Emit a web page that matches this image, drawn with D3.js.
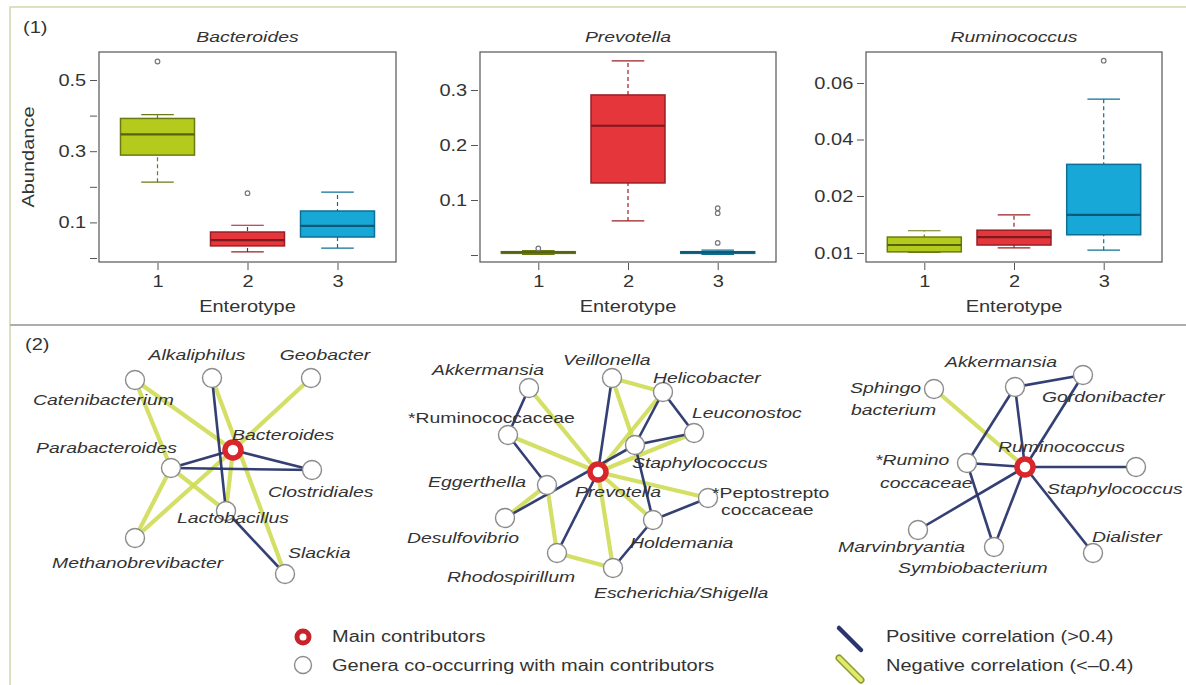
<!DOCTYPE html>
<html>
<head>
<meta charset="utf-8">
<script src="https://cdn.jsdelivr.net/npm/d3@7"></script>
<style>
body { margin: 0; background: #fff; }
svg { display: block; font-family: "Liberation Sans", Arial, sans-serif; }
</style>
</head>
<body>
<svg width="1186" height="685"></svg>
<script>
const SX = 1.25; // text in the source figure is drawn a bit wide

// ---------- box plots ----------
const enterotypes = ["1", "2", "3"];
const genera = ["Bacteroides", "Prevotella", "Ruminococcus"];
const boxFill = ["#b4cb1e", "#e4363b", "#17a8d8"];
const boxEdge = ["#6b7a12", "#9a1f24", "#0d6f93"];

// [whisker low, q1, median, q3, whisker high]
const bacteroidesStats = [[0.213, 0.289, 0.347, 0.392, 0.403], [0.017, 0.034, 0.05, 0.073, 0.092], [0.028, 0.059, 0.09, 0.132, 0.185]];
const bacteroidesOutliers = [[0.552], [0.182], []];
const prevotellaStats = [[0.001, 0.003, 0.005, 0.006, 0.008], [0.062, 0.131, 0.235, 0.291, 0.353], [0.001, 0.003, 0.005, 0.006, 0.009]];
const prevotellaOutliers = [[0.012], [], [0.085, 0.076, 0.022]];
const ruminococcusStats = [[0.0101, 0.0102, 0.0114, 0.0128, 0.0139], [0.0109, 0.0114, 0.0128, 0.014, 0.0167], [0.0105, 0.0132, 0.0167, 0.0312, 0.0543]];
const ruminococcusOutliers = [[], [], [0.0679]];

const bacteroidesTicks = [0, 0.1, 0.2, 0.3, 0.4, 0.5];
const bacteroidesTickLabels = ["", "0.1", "", "0.3", "", "0.5"];
const prevotellaTicks = [0, 0.1, 0.2, 0.3];
const prevotellaTickLabels = ["", "0.1", "0.2", "0.3"];
const ruminococcusTicks = [0.01, 0.02, 0.04, 0.06];
const ruminococcusTickLabels = ["0.01", "0.02", "0.04", "0.06"];

// ---------- networks ----------
// first node of each list is the main contributor; edges: 1 positive, -1 negative
const net1Nodes = ["Bacteroides", "Catenibacterium", "Alkaliphilus", "Geobacter", "Parabacteroides", "Clostridiales", "Lactobacillus", "Methanobrevibacter", "Slackia"];
const net1Edges = [
    ["Catenibacterium", "Bacteroides", -1], ["Catenibacterium", "Parabacteroides", -1], ["Geobacter", "Bacteroides", -1],
    ["Bacteroides", "Methanobrevibacter", -1], ["Methanobrevibacter", "Parabacteroides", -1], ["Parabacteroides", "Lactobacillus", -1],
    ["Alkaliphilus", "Slackia", -1], ["Bacteroides", "Lactobacillus", -1],
    ["Alkaliphilus", "Lactobacillus", 1], ["Parabacteroides", "Bacteroides", 1], ["Parabacteroides", "Clostridiales", 1],
    ["Bacteroides", "Clostridiales", 1], ["Lactobacillus", "Slackia", 1]
];
const net2Nodes = ["Prevotella", "Akkermansia", "Veillonella", "Helicobacter", "Ruminococcaceae", "Leuconostoc", "Staphylococcus", "Eggerthella", "Peptostreptococcaceae", "Desulfovibrio", "Holdemania", "Rhodospirillum", "Escherichia/Shigella"];
const net2Edges = [
    ["Akkermansia", "Prevotella", -1], ["Ruminococcaceae", "Prevotella", -1], ["Veillonella", "Helicobacter", -1],
    ["Veillonella", "Staphylococcus", -1], ["Helicobacter", "Prevotella", -1], ["Leuconostoc", "Prevotella", -1],
    ["Prevotella", "Peptostreptococcaceae", -1], ["Prevotella", "Holdemania", -1], ["Prevotella", "Escherichia/Shigella", -1],
    ["Eggerthella", "Desulfovibrio", -1], ["Eggerthella", "Rhodospirillum", -1], ["Rhodospirillum", "Escherichia/Shigella", -1],
    ["Akkermansia", "Ruminococcaceae", 1], ["Ruminococcaceae", "Eggerthella", 1], ["Veillonella", "Prevotella", 1],
    ["Helicobacter", "Leuconostoc", 1], ["Helicobacter", "Staphylococcus", 1], ["Staphylococcus", "Holdemania", 1],
    ["Leuconostoc", "Staphylococcus", 1], ["Desulfovibrio", "Staphylococcus", 1], ["Prevotella", "Rhodospirillum", 1],
    ["Peptostreptococcaceae", "Holdemania", 1], ["Holdemania", "Escherichia/Shigella", 1]
];
const net3Nodes = ["Ruminococcus", "Akkermansia", "Gordonibacter", "Sphingobacterium", "Ruminococcaceae", "Staphylococcus", "Marvinbryantia", "Symbiobacterium", "Dialister"];
const net3Edges = [
    ["Sphingobacterium", "Ruminococcus", -1],
    ["Akkermansia", "Gordonibacter", 1], ["Akkermansia", "Ruminococcaceae", 1], ["Akkermansia", "Ruminococcus", 1],
    ["Gordonibacter", "Ruminococcus", 1], ["Ruminococcaceae", "Ruminococcus", 1], ["Ruminococcus", "Staphylococcus", 1],
    ["Ruminococcus", "Marvinbryantia", 1], ["Ruminococcus", "Symbiobacterium", 1], ["Ruminococcus", "Dialister", 1],
    ["Ruminococcaceae", "Symbiobacterium", 1]
];

const legendNodes = ["Main contributors", "Genera co-occurring with main contributors"];
const legendEdges = ["Positive correlation (>0.4)", "Negative correlation (<\u20130.4)"];

// ---------- layout (panel-local positions) ----------
const net1Layout = {
    "Bacteroides": { p: [233, 130], l: [232, 120] },
    "Catenibacterium": { p: [135, 60], l: [33, 85] },
    "Alkaliphilus": { p: [212, 58], l: [197, 40], a: "middle" },
    "Geobacter": { p: [311, 58], l: [325, 40], a: "middle" },
    "Parabacteroides": { p: [171, 148], l: [36, 133] },
    "Clostridiales": { p: [312, 150], l: [268, 177] },
    "Lactobacillus": { p: [226, 191], l: [177, 203] },
    "Methanobrevibacter": { p: [135, 218], l: [52, 248] },
    "Slackia": { p: [285, 254], l: [288, 238] }
};
const net2Layout = {
    "Prevotella": { p: [208, 152], l: [185, 177] },
    "Akkermansia": { p: [139, 68], l: [42, 55] },
    "Veillonella": { p: [222, 58], l: [173, 45] },
    "Helicobacter": { p: [273, 72], l: [263, 63] },
    "Ruminococcaceae": { p: [118, 115], l: [18, 103], t: ["*Ruminococcaceae"], up: true },
    "Leuconostoc": { p: [304, 113], l: [302, 98] },
    "Staphylococcus": { p: [245, 125], l: [242, 148] },
    "Eggerthella": { p: [157, 165], l: [38, 167] },
    "Peptostreptococcaceae": { p: [318, 178], l: [322, 178], t: ["*Peptostrepto", "coccaceae"], l2: [9, 17], up: true },
    "Desulfovibrio": { p: [115, 198], l: [17, 223] },
    "Holdemania": { p: [263, 200], l: [240, 228] },
    "Rhodospirillum": { p: [167, 233], l: [57, 262] },
    "Escherichia/Shigella": { p: [223, 248], l: [204, 278] }
};
const net3Layout = {
    "Ruminococcus": { p: [245, 147], l: [218, 132] },
    "Akkermansia": { p: [235, 67], l: [165, 47] },
    "Gordonibacter": { p: [303, 55], l: [262, 82] },
    "Sphingobacterium": { p: [154, 69], l: [70, 73], t: ["Sphingo", "bacterium"], l2: [1, 22] },
    "Ruminococcaceae": { p: [187, 143], l: [95, 145], t: ["*Rumino", "coccaceae"], l2: [5, 23] },
    "Staphylococcus": { p: [356, 147], l: [267, 174] },
    "Marvinbryantia": { p: [138, 210], l: [58, 232] },
    "Symbiobacterium": { p: [214, 227], l: [118, 253] },
    "Dialister": { p: [313, 233], l: [312, 222] }
};

let svg = d3.select("svg");

// frame
svg.append("path").attr("d", "M10,685V7H1186").attr("fill", "none").attr("stroke", "#d4d8ad").attr("stroke-width", 1.5);
svg.append("line").attr("x1", 10).attr("x2", 1186).attr("y1", 325).attr("y2", 325).attr("stroke", "#adadad").attr("stroke-width", 2);

function label(g, x, y, str, size, italic, anchor) {
    return g.append("text")
        .attr("transform", `translate(${x},${y}) scale(${SX},1)`)
        .attr("text-anchor", anchor || "start")
        .attr("font-size", size)
        .attr("font-style", italic ? "italic" : "normal")
        .attr("fill", "#333")
        .text(str);
}

label(svg, 23, 33, "(1)", 16, false);
label(svg, 25, 350, "(2)", 16, false);

// ---------- draw box plots ----------
const boxTop = 52, boxBottom = 262, boxW = 74;
const panels = [
    { stats: bacteroidesStats, out: bacteroidesOutliers, ticks: bacteroidesTicks, labels: bacteroidesTickLabels, left: 99, right: 396, dom: [0, 0.5], rng: [258, 80] },
    { stats: prevotellaStats, out: prevotellaOutliers, ticks: prevotellaTicks, labels: prevotellaTickLabels, left: 480, right: 776, dom: [0, 0.3], rng: [255, 90] },
    { stats: ruminococcusStats, out: ruminococcusOutliers, ticks: ruminococcusTicks, labels: ruminococcusTickLabels, left: 866, right: 1162, dom: [0.01, 0.02, 0.06], rng: [253, 196, 83] }
];

panels.forEach((p, k) => {
    let x = d3.scalePoint().domain(enterotypes).range([p.left, p.right]).padding(0.65);
    let y = d3.scaleLinear().domain(p.dom).range(p.rng);
    let g = svg.append("g");

    let ya = g.append("g")
        .attr("transform", `translate(${p.left - 2},0)`)
        .call(d3.axisLeft(y).tickValues(p.ticks).tickFormat((d, i) => p.labels[i]).tickSize(7).tickSizeOuter(0));
    ya.select(".domain").remove();
    ya.selectAll("line").attr("stroke", "#555");
    ya.selectAll("text").attr("font-size", 16).attr("fill", "#333")
        .attr("x", -3).attr("transform", `translate(-7,0) scale(${SX},1)`);

    let xa = g.append("g")
        .attr("transform", `translate(0,${boxBottom + 1})`)
        .call(d3.axisBottom(x).tickSize(7).tickPadding(6).tickSizeOuter(0));
    xa.select(".domain").remove();
    xa.selectAll("line").attr("stroke", "#555");
    xa.selectAll("text").attr("font-size", 16).attr("fill", "#333")
        .attr("transform", `scale(${SX},1)`);

    let mid = (p.left + p.right) / 2;
    label(g, mid, 42, genera[k], 15.5, true, "middle");
    label(g, mid, 312, "Enterotype", 16, false, "middle");

    let boxes = g.selectAll("g.box")
        .data(p.stats)
        .join("g")
        .attr("class", "box");

    boxes.append("line")
        .attr("x1", (d, i) => x(enterotypes[i])).attr("x2", (d, i) => x(enterotypes[i]))
        .attr("y1", d => y(d[0])).attr("y2", d => y(d[4]))
        .attr("stroke", (d, i) => boxEdge[i]).attr("stroke-dasharray", "4,3").attr("stroke-width", 1.2);
    boxes.selectAll("line.cap")
        .data((d, i) => [[d[0], i], [d[4], i]])
        .join("line")
        .attr("class", "cap")
        .attr("x1", d => x(enterotypes[d[1]]) - boxW * 0.22)
        .attr("x2", d => x(enterotypes[d[1]]) + boxW * 0.22)
        .attr("y1", d => y(d[0])).attr("y2", d => y(d[0]))
        .attr("stroke", d => boxEdge[d[1]]).attr("stroke-width", 1.2);
    boxes.append("rect")
        .attr("x", (d, i) => x(enterotypes[i]) - boxW / 2)
        .attr("width", boxW)
        .attr("y", d => y(d[3]))
        .attr("height", d => y(d[1]) - y(d[3]))
        .attr("fill", (d, i) => boxFill[i])
        .attr("stroke", (d, i) => boxEdge[i]).attr("stroke-width", 1.5);
    boxes.append("line")
        .attr("x1", (d, i) => x(enterotypes[i]) - boxW / 2).attr("x2", (d, i) => x(enterotypes[i]) + boxW / 2)
        .attr("y1", d => y(d[2])).attr("y2", d => y(d[2]))
        .attr("stroke", (d, i) => d3.color(boxEdge[i]).darker(0.6)).attr("stroke-width", 2.2);

    g.selectAll("circle.out")
        .data(p.out.flatMap((vals, i) => vals.map(v => [v, i])))
        .join("circle")
        .attr("class", "out")
        .attr("cx", d => x(enterotypes[d[1]])).attr("cy", d => y(d[0]))
        .attr("r", 2.3).attr("fill", "none").attr("stroke", "#777").attr("stroke-width", 1.2);

    g.append("rect")
        .attr("x", p.left).attr("y", boxTop)
        .attr("width", p.right - p.left).attr("height", boxBottom - boxTop)
        .attr("fill", "none").attr("stroke", "#555").attr("stroke-width", 1.2);
});

// ---------- draw networks ----------
const blue = "#29356c", yellow = "#cfdb55", red = "#d8262c";
const nets = [
    { x0: 0, y0: 320, nodes: net1Nodes, edges: net1Edges, layout: net1Layout },
    { x0: 390, y0: 320, nodes: net2Nodes, edges: net2Edges, layout: net2Layout },
    { x0: 780, y0: 320, nodes: net3Nodes, edges: net3Edges, layout: net3Layout }
];

nets.forEach(n => {
    let x = d3.scaleLinear().domain([0, 400]).range([n.x0, n.x0 + 400]);
    let y = d3.scaleLinear().domain([0, 300]).range([n.y0, n.y0 + 300]);
    let g = svg.append("g");
    let pos = name => n.layout[name].p;

    let sorted = n.edges.slice().sort((a, b) => a[2] - b[2]); // negatives underneath
    g.selectAll("line.edge")
        .data(sorted)
        .join("line")
        .attr("x1", d => x(pos(d[0])[0])).attr("y1", d => y(pos(d[0])[1]))
        .attr("x2", d => x(pos(d[1])[0])).attr("y2", d => y(pos(d[1])[1]))
        .attr("stroke", d => d[2] > 0 ? blue : yellow)
        .attr("stroke-width", d => d[2] > 0 ? 2.6 : 4.2)
        .attr("stroke-opacity", d => d[2] > 0 ? 0.95 : 0.9);

    g.selectAll("circle.node")
        .data(n.nodes)
        .join("circle")
        .attr("cx", d => x(pos(d)[0])).attr("cy", d => y(pos(d)[1]))
        .attr("r", (d, i) => i === 0 ? 8 : 9.5)
        .attr("fill", "#fff")
        .attr("stroke", (d, i) => i === 0 ? red : "#8c8c8c")
        .attr("stroke-width", (d, i) => i === 0 ? 5.5 : 1.4);

    n.nodes.forEach(name => {
        let L = n.layout[name];
        let lines = L.t || [name];
        label(g, x(L.l[0]), y(L.l[1]), lines[0], 15.5, !L.up, L.a);
        if (lines[1]) label(g, x(L.l[0] + L.l2[0]), y(L.l[1] + L.l2[1]), lines[1], 15.5, !L.up, L.a);
    });
});

// ---------- legend ----------
let lg = svg.append("g");
lg.append("circle").attr("cx", 303).attr("cy", 637).attr("r", 6).attr("fill", "#fff").attr("stroke", "#c8232b").attr("stroke-width", 5);
lg.append("circle").attr("cx", 303).attr("cy", 665).attr("r", 8.5).attr("fill", "#fff").attr("stroke", "#8c8c8c").attr("stroke-width", 1.4);
label(lg, 332, 642, legendNodes[0], 16, false);
label(lg, 332, 671, legendNodes[1], 16, false);

lg.append("line").attr("x1", 839).attr("y1", 628).attr("x2", 861).attr("y2", 650)
    .attr("stroke", blue).attr("stroke-width", 4.5).attr("stroke-linecap", "round");
lg.append("line").attr("x1", 839).attr("y1", 658).attr("x2", 861).attr("y2", 680)
    .attr("stroke", "#8e9a2c").attr("stroke-width", 7).attr("stroke-linecap", "round");
lg.append("line").attr("x1", 839).attr("y1", 658).attr("x2", 861).attr("y2", 680)
    .attr("stroke", "#e2ea6c").attr("stroke-width", 4).attr("stroke-linecap", "round");
label(lg, 886, 642, legendEdges[0], 16, false);
label(lg, 886, 671, legendEdges[1], 16, false);

// y axis title
svg.append("text")
    .attr("transform", `translate(34,157) rotate(-90) scale(${SX},1)`)
    .attr("text-anchor", "middle").attr("font-size", 16).attr("fill", "#333")
    .text("Abundance");
</script>
</body>
</html>
